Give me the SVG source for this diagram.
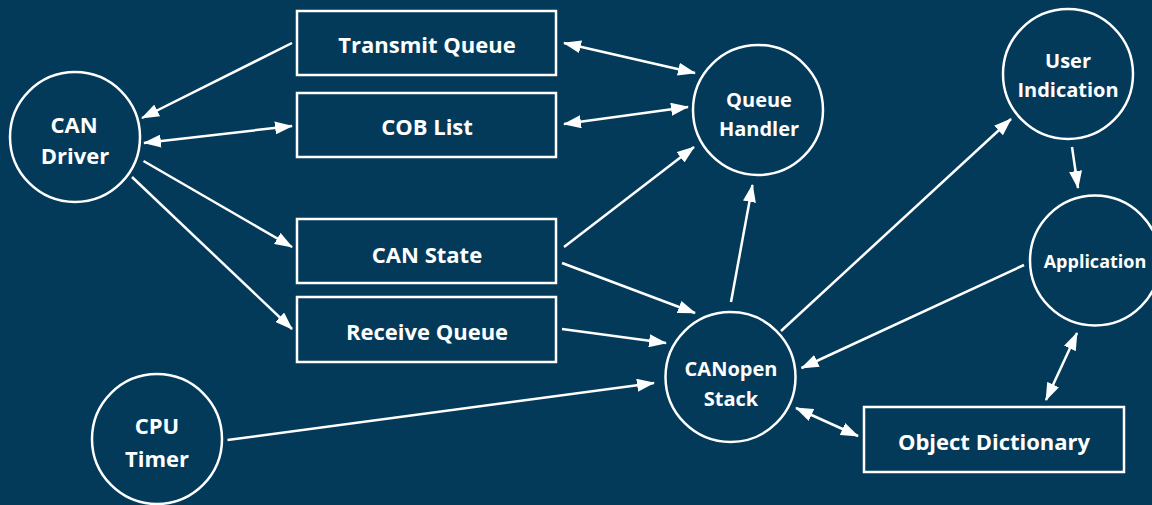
<svg xmlns="http://www.w3.org/2000/svg" width="1152" height="505" viewBox="0 0 1152 505">
<defs>
<marker id="ah" viewBox="0 0 18 13" refX="17" refY="6.5" markerWidth="18" markerHeight="13" markerUnits="userSpaceOnUse" orient="auto-start-reverse">
<path d="M0,0 L18,6.5 L0,13 z" fill="#ffffff"/>
</marker>
</defs>
<style>
.node { fill: none; stroke: #ffffff; stroke-width: 2.5; }
.lbl { font-family: "Open Sans", "DejaVu Sans", sans-serif; font-weight: bold; fill: #ffffff; text-anchor: middle; }
.c { fill: none; stroke: #ffffff; stroke-width: 2.5; }
.e { marker-end: url(#ah); }
.b { marker-start: url(#ah); marker-end: url(#ah); }
</style>
<rect x="0" y="0" width="1152" height="505" fill="#033a5a"/>
<g id="connectors">
<path class="c e" d="M292,43 L142,118"/>
<path class="c b" d="M144,143 L292,126"/>
<path class="c e" d="M143.5,161 L292,247"/>
<path class="c e" d="M132,177 L292,329"/>
<path class="c b" d="M564,43 L695,73"/>
<path class="c b" d="M564,124 L688,107"/>
<path class="c e" d="M564,247 L694,147"/>
<path class="c e" d="M731,302 L752.5,185"/>
<path class="c e" d="M781,331 L1011,119"/>
<path class="c e" d="M1072,147 L1078,188"/>
<path class="c e" d="M1024,265 L801.5,368"/>
<path class="c b" d="M1077,333 L1046,400"/>
<path class="c b" d="M796,408 L858,436"/>
<path class="c e" d="M562,263 L695,313"/>
<path class="c e" d="M562,329 L666,343"/>
<path class="c e" d="M227.5,440 L654,383"/>
</g>
<g id="can-driver">
<circle class="node" cx="75" cy="137" r="65"/>
<text class="lbl" x="74" y="133" font-size="22">CAN</text>
<text class="lbl" x="75" y="164" font-size="22">Driver</text>
</g>
<g id="transmit-queue">
<rect class="node" x="297" y="11" width="259" height="64"/>
<text class="lbl" x="427" y="53" font-size="22">Transmit Queue</text>
</g>
<g id="cob-list">
<rect class="node" x="297" y="93" width="259" height="64"/>
<text class="lbl" x="427" y="135" font-size="22">COB List</text>
</g>
<g id="can-state">
<rect class="node" x="297" y="219" width="259" height="64"/>
<text class="lbl" x="427" y="262.5" font-size="22">CAN State</text>
</g>
<g id="receive-queue">
<rect class="node" x="297" y="297" width="259" height="65"/>
<text class="lbl" x="427" y="340" font-size="22">Receive Queue</text>
</g>
<g id="cpu-timer">
<circle class="node" cx="157" cy="439" r="65"/>
<text class="lbl" x="157" y="434" font-size="22">CPU</text>
<text class="lbl" x="157" y="466.5" font-size="22">Timer</text>
</g>
<g id="queue-handler">
<circle class="node" cx="758" cy="110" r="65"/>
<text class="lbl" x="759" y="107" font-size="20">Queue</text>
<text class="lbl" x="759" y="136" font-size="20">Handler</text>
</g>
<g id="canopen-stack">
<circle class="node" cx="730.5" cy="377" r="65"/>
<text class="lbl" x="731" y="376" font-size="20">CANopen</text>
<text class="lbl" x="731" y="405.5" font-size="20">Stack</text>
</g>
<g id="user-indication">
<circle class="node" cx="1068" cy="74" r="65"/>
<text class="lbl" x="1068" y="68" font-size="20">User</text>
<text class="lbl" x="1068" y="97" font-size="20">Indication</text>
</g>
<g id="application">
<circle class="node" cx="1095" cy="260.5" r="65"/>
<text class="lbl" x="1095" y="268" font-size="18">Application</text>
</g>
<g id="object-dictionary">
<rect class="node" x="864" y="407" width="260" height="65"/>
<text class="lbl" x="994" y="450" font-size="22">Object Dictionary</text>
</g>
</svg>
